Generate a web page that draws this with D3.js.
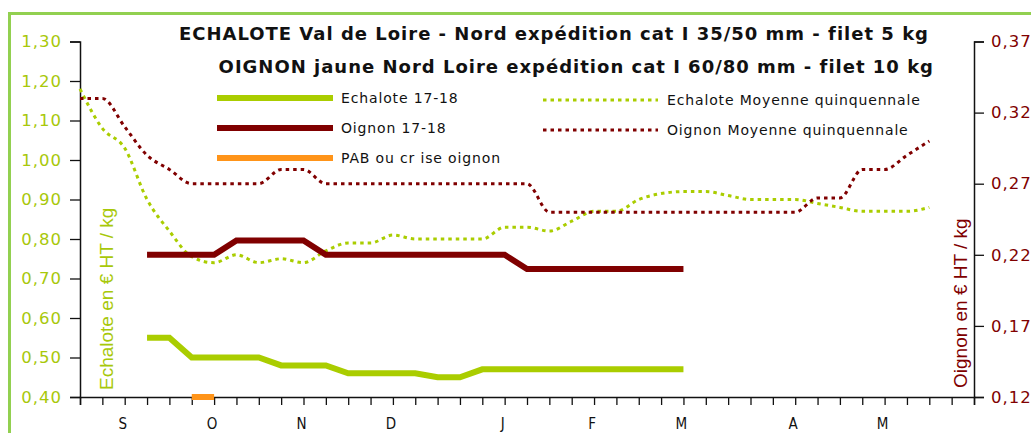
<!DOCTYPE html>
<html>
<head>
  <meta charset="utf-8">
  <title>Echalote / Oignon 17-18</title>
  <script src="https://d3js.org/d3.v7.min.js"></script>
  <style>
    body { margin: 0; background: #fff; }
    svg { display: block; }
  </style>
</head>
<body>
<div id="chart"></div>
<script>
  // month labels along the week axis (week index where each label sits)
  var months = ["S", "O", "N", "D", "J", "F", "M", "A", "M"];
  var monthWeeks = [2, 6, 10, 14, 19, 23, 27, 32, 36];

  var leftTicks = [0.40, 0.50, 0.60, 0.70, 0.80, 0.90, 1.00, 1.10, 1.20, 1.30];
  var rightTicks = [0.12, 0.17, 0.22, 0.27, 0.32, 0.37];

  // echalote 5-year average, weeks 0..38 (left axis)
  var echaloteMoy = [1.18, 1.08, 1.03, 0.90, 0.82, 0.755, 0.74, 0.76, 0.74, 0.75,
                     0.74, 0.77, 0.79, 0.79, 0.81, 0.80, 0.80, 0.80, 0.80, 0.83,
                     0.83, 0.82, 0.845, 0.87, 0.87, 0.90, 0.915, 0.92, 0.92, 0.91,
                     0.90, 0.90, 0.90, 0.89, 0.88, 0.87, 0.87, 0.87, 0.88];
  // oignon 5-year average, weeks 0..38 (right axis)
  var oignonMoy = [0.33, 0.33, 0.31, 0.29, 0.28, 0.27, 0.27, 0.27, 0.27, 0.28,
                   0.28, 0.27, 0.27, 0.27, 0.27, 0.27, 0.27, 0.27, 0.27, 0.27,
                   0.27, 0.25, 0.25, 0.25, 0.25, 0.25, 0.25, 0.25, 0.25, 0.25,
                   0.25, 0.25, 0.25, 0.26, 0.26, 0.28, 0.28, 0.29, 0.30];
  // 17-18 season, weeks 3..27
  var seasonStart = 3;
  var echalote1718 = [0.55, 0.55, 0.50, 0.50, 0.50, 0.50, 0.48, 0.48, 0.48, 0.46,
                      0.46, 0.46, 0.46, 0.45, 0.45, 0.47, 0.47, 0.47, 0.47, 0.47,
                      0.47, 0.47, 0.47, 0.47, 0.47];
  var oignon1718 = [0.22, 0.22, 0.22, 0.22, 0.23, 0.23, 0.23, 0.23, 0.22, 0.22,
                    0.22, 0.22, 0.22, 0.22, 0.22, 0.22, 0.22, 0.21, 0.21, 0.21,
                    0.21, 0.21, 0.21, 0.21, 0.21];
  // PAB ou crise oignon marker
  var pabWeeks = [5, 6];
  var pabValues = [0.40, 0.40];

  var green = "#aacd00", greenText = "#a8c80a", red = "#800000", orange = "#ff9419";

  var width = 1031, height = 433;
  var svg = d3.select("#chart").append("svg")
    .attr("width", width).attr("height", height);

  // frame
  svg.append("rect")
    .attr("x", 9.5).attr("y", 13.5)
    .attr("width", 1100).attr("height", 500)
    .attr("fill", "none").attr("stroke", "#92d050").attr("stroke-width", 3);

  var x = d3.scaleLinear().domain([0, 40]).range([80, 974]);
  var yL = d3.scaleLinear().domain([0.40, 1.30]).range([397, 41.5]);
  var yR = d3.scaleLinear().domain([0.12, 0.37]).range([397, 41.5]);

  function comma(d) { return d3.format(".2f")(d).replace(".", ","); }

  // axes
  var gL = svg.append("g").attr("transform", "translate(80,0)")
    .call(d3.axisLeft(yL).tickValues(leftTicks).tickSize(10).tickPadding(8).tickFormat(comma));
  var gR = svg.append("g").attr("transform", "translate(974,0)")
    .call(d3.axisRight(yR).tickValues(rightTicks).tickSize(10).tickPadding(7).tickFormat(comma));
  var gB = svg.append("g").attr("transform", "translate(0,397)")
    .call(d3.axisBottom(x).tickValues(d3.range(0, 41)).tickSize(8).tickFormat(""));

  [gL, gR, gB].forEach(function (g) {
    g.select(".domain").attr("stroke", "#111").attr("stroke-width", 1.5);
    g.selectAll(".tick line").attr("stroke", "#111").attr("stroke-width", 1.3);
  });
  gL.selectAll("text").attr("fill", greenText)
    .style("font-family", "DejaVu Sans").style("font-size", "16.5px").style("letter-spacing", "1px");
  gR.selectAll("text").attr("fill", red)
    .style("font-family", "DejaVu Sans").style("font-size", "16.5px").style("letter-spacing", "1px");

  svg.append("g").selectAll("text")
    .data(months).enter().append("text")
    .attr("x", function (d, i) { return x(monthWeeks[i]) - 2; })
    .attr("y", 429)
    .attr("text-anchor", "middle")
    .style("font-family", "DejaVu Sans Condensed").style("font-size", "15px")
    .attr("fill", "#111")
    .text(function (d) { return d; });

  // axis titles
  svg.append("text")
    .attr("transform", "translate(113,390) rotate(-90)")
    .style("font-family", "Liberation Sans").style("font-size", "19px")
    .attr("fill", greenText).text("Echalote en € HT / kg");
  svg.append("text")
    .attr("transform", "translate(967,388) rotate(-90)")
    .style("font-family", "Liberation Sans").style("font-size", "19px")
    .attr("fill", red).text("Oignon en € HT / kg");

  // titles
  svg.append("text").attr("x", 929).attr("y", 40).attr("text-anchor", "end")
    .style("font-family", "DejaVu Sans").style("font-weight", "bold").style("font-size", "18px")
    .style("letter-spacing", "1px")
    .attr("fill", "#111")
    .text("ECHALOTE Val de Loire - Nord expédition cat I 35/50 mm - filet 5 kg");
  svg.append("text").attr("x", 934).attr("y", 73).attr("text-anchor", "end")
    .style("font-family", "DejaVu Sans").style("font-weight", "bold").style("font-size", "18px")
    .style("letter-spacing", "1px")
    .attr("fill", "#111")
    .text("OIGNON jaune Nord Loire expédition cat I 60/80 mm - filet 10 kg");

  // lines
  var dotted = d3.line().curve(d3.curveMonotoneX);
  var straight = d3.line();

  function pts(values, start, y) {
    return values.map(function (v, i) { return [x(start + i), y(v)]; });
  }

  svg.append("path").attr("d", dotted(pts(echaloteMoy, 0, yL)))
    .attr("fill", "none").attr("stroke", green).attr("stroke-width", 3)
    .attr("stroke-dasharray", "3.5,4");
  svg.append("path").attr("d", dotted(pts(oignonMoy, 0, yR)))
    .attr("fill", "none").attr("stroke", red).attr("stroke-width", 3)
    .attr("stroke-dasharray", "3.5,4");

  svg.append("path").attr("d", straight(pts(oignon1718, seasonStart, yR)))
    .attr("fill", "none").attr("stroke", red).attr("stroke-width", 6);
  svg.append("path").attr("d", straight(pts(echalote1718, seasonStart, yL)))
    .attr("fill", "none").attr("stroke", green).attr("stroke-width", 6);

  svg.append("path")
    .attr("d", straight(pabWeeks.map(function (w, i) { return [x(w), yL(pabValues[i])]; })))
    .attr("fill", "none").attr("stroke", orange).attr("stroke-width", 6);

  // legend
  var legendSolid = [
    { label: "Echalote 17-18", color: green, y: 98 },
    { label: "Oignon 17-18", color: red, y: 128 },
    { label: "PAB ou cr ise oignon", color: orange, y: 158 }
  ];
  var legendDotted = [
    { label: "Echalote Moyenne quinquennale", color: green, y: 100 },
    { label: "Oignon Moyenne quinquennale", color: red, y: 130 }
  ];
  var lg = svg.append("g");
  legendSolid.forEach(function (d) {
    lg.append("line").attr("x1", 217).attr("x2", 333).attr("y1", d.y).attr("y2", d.y)
      .attr("stroke", d.color).attr("stroke-width", 6);
    lg.append("text").attr("x", 341).attr("y", d.y + 5)
      .style("font-family", "DejaVu Sans").style("font-size", "14px").style("letter-spacing", "0.85px")
      .attr("fill", "#111").text(d.label);
  });
  legendDotted.forEach(function (d) {
    lg.append("line").attr("x1", 543).attr("x2", 658).attr("y1", d.y).attr("y2", d.y)
      .attr("stroke", d.color).attr("stroke-width", 3).attr("stroke-dasharray", "3.5,4");
    lg.append("text").attr("x", 667).attr("y", d.y + 5)
      .style("font-family", "DejaVu Sans").style("font-size", "14px").style("letter-spacing", "0.85px")
      .attr("fill", "#111").text(d.label);
  });
</script>
</body>
</html>
